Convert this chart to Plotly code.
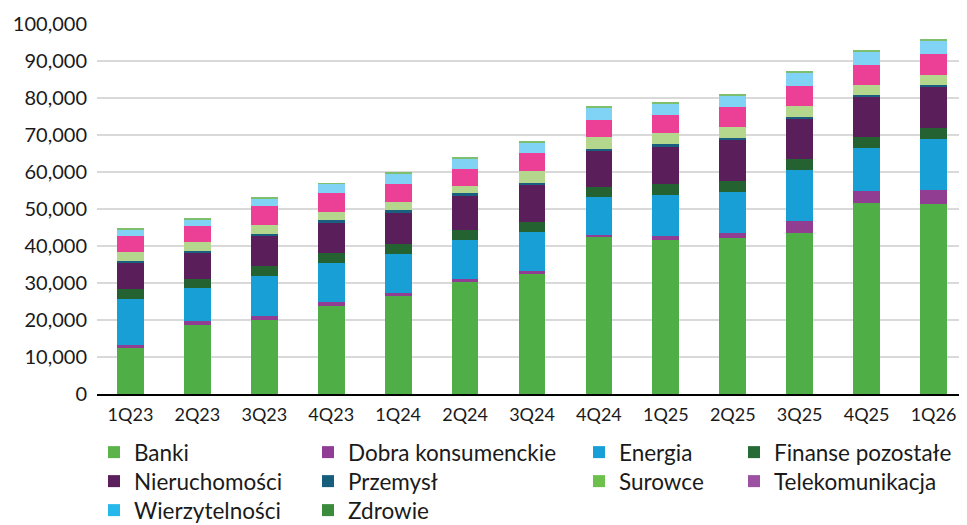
import plotly.graph_objects as go

quarters = ["1Q23", "2Q23", "3Q23", "4Q23", "1Q24", "2Q24", "3Q24",
            "4Q24", "1Q25", "2Q25", "3Q25", "4Q25", "1Q26"]

banki = [12300, 18700, 19900, 23750, 26450, 30150, 32400, 42550, 41500, 42050, 43400, 51650, 51400]
dobra_konsumenckie = [1000, 1100, 1100, 1000, 900, 1000, 800, 450, 1250, 1450, 3300, 3150, 3800]
energia = [12400, 8800, 11000, 10700, 10550, 10550, 10550, 10350, 11150, 11050, 13850, 11600, 13850]
finanse_pozostale = [2600, 2500, 2500, 2600, 2600, 2600, 2800, 2600, 2800, 3050, 2950, 3050, 2950]
nieruchomosci = [7100, 7000, 8100, 8300, 8550, 9250, 9900, 9700, 10100, 10950, 10900, 11050, 11150]
przemysl = [550, 550, 550, 550, 650, 700, 700, 650, 700, 650, 550, 200, 300]
surowce = [2300, 2350, 2450, 2250, 2250, 1900, 3150, 3050, 2950, 3050, 2800, 2900, 2900]
telekomunikacja = [4400, 4400, 5200, 5150, 4700, 4700, 4750, 4800, 4850, 5400, 5400, 5400, 5500]
wierzytelnosci = [1900, 1800, 2050, 2500, 2900, 2900, 2950, 3300, 3250, 3150, 3700, 3500, 3600]
zdrowie = [200, 250, 200, 200, 250, 250, 250, 250, 250, 200, 250, 250, 250]

series_names = ["Banki", "Dobra konsumenckie", "Energia", "Finanse pozostałe",
                "Nieruchomości", "Przemysł", "Surowce", "Telekomunikacja",
                "Wierzytelności", "Zdrowie"]
series_values = [banki, dobra_konsumenckie, energia, finanse_pozostale,
                 nieruchomosci, przemysl, surowce, telekomunikacja,
                 wierzytelnosci, zdrowie]
bar_colors = ["#50AE47", "#913D92", "#189FD6", "#246232", "#5A1E5A",
              "#1A5E80", "#B5D78D", "#EC3F96", "#80D3F5", "#7DBF6C"]
legend_colors = ["#5BB349", "#913D97", "#199FD8", "#266B35", "#5B1F5D",
                 "#175E7D", "#6CC04B", "#9C51A2", "#26B8EA", "#3A8B3C"]

FONT = "Lato"
W, H = 959, 517
col_x = [86, 300, 571, 726]      # legend column left edges (figure px)
row_top = [423, 452, 481]         # legend row top edges (figure px)

fig = go.Figure()
for name, vals, col in zip(series_names, series_values, bar_colors):
    fig.add_trace(go.Bar(x=quarters, y=vals, name=name, marker_color=col,
                         marker_line_width=0, showlegend=False))

leg_common = dict(orientation="v", font=dict(family=FONT, size=22.5, color="#1a1a1a"),
                  bgcolor="rgba(0,0,0,0)", xref="container", yref="container",
                  xanchor="left", yanchor="top", itemwidth=30)
legend_layout = {}
# legend-only entries (zero-height, so nothing is drawn in the plot)
for i, (name, col) in enumerate(zip(series_names, legend_colors)):
    lid = "legend" if i == 0 else f"legend{i + 1}"
    fig.add_trace(go.Bar(x=quarters[:1], y=[0], name=name, marker_color=col,
                         marker_line_width=0, showlegend=True, legend=lid,
                         hoverinfo="skip"))
    r, c = divmod(i, 4)
    legend_layout[lid] = dict(x=col_x[c] / W, y=1 - row_top[r] / H, **leg_common)

fig.update_layout(
    width=W, height=H,
    barmode="stack", bargap=0.6,
    paper_bgcolor="white", plot_bgcolor="white",
    margin=dict(l=89, r=0, t=16, b=131, autoexpand=False),
    font=dict(family=FONT, size=20, color="#1a1a1a"),
    xaxis=dict(type="category", showline=True, linecolor="#000000", linewidth=2,
               ticks="", ticklabelstandoff=3, tickfont=dict(size=18),
               automargin=False),
    yaxis=dict(range=[0, 100000], dtick=10000, tickformat=",", showgrid=True,
               gridcolor="#D9D9D9", gridwidth=2, zeroline=False, ticks="",
               ticklabelstandoff=9, tickfont=dict(size=20), automargin=False),
    **legend_layout,
)

fig.write_html("out.html")
